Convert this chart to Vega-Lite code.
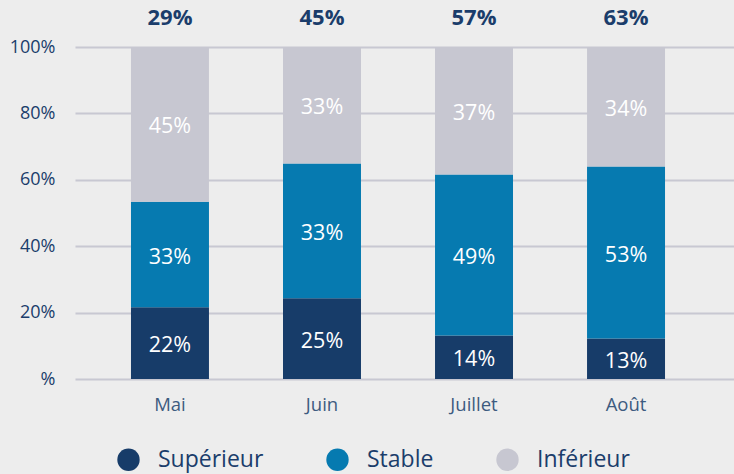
{
  "$schema": "https://vega.github.io/schema/vega-lite/v6.json",
  "width": 659,
  "height": 332,
  "autosize": "none",
  "padding": {"left": 75, "top": 47, "right": 0, "bottom": 95},
  "background": "#ededed",
  "config": {
    "view": {"stroke": null},
    "font": "Open Sans"
  },
  "datasets": {
    "bars": [
      {"mois": "Mai", "categorie": "Supérieur", "ordre": 1, "valeur": 0.216, "label": "22%"},
      {"mois": "Mai", "categorie": "Stable", "ordre": 2, "valeur": 0.318, "label": "33%"},
      {"mois": "Mai", "categorie": "Inférieur", "ordre": 3, "valeur": 0.466, "label": "45%"},
      {"mois": "Juin", "categorie": "Supérieur", "ordre": 1, "valeur": 0.243, "label": "25%"},
      {"mois": "Juin", "categorie": "Stable", "ordre": 2, "valeur": 0.406, "label": "33%"},
      {"mois": "Juin", "categorie": "Inférieur", "ordre": 3, "valeur": 0.351, "label": "33%"},
      {"mois": "Juillet", "categorie": "Supérieur", "ordre": 1, "valeur": 0.131, "label": "14%"},
      {"mois": "Juillet", "categorie": "Stable", "ordre": 2, "valeur": 0.485, "label": "49%"},
      {"mois": "Juillet", "categorie": "Inférieur", "ordre": 3, "valeur": 0.384, "label": "37%"},
      {"mois": "Août", "categorie": "Supérieur", "ordre": 1, "valeur": 0.122, "label": "13%"},
      {"mois": "Août", "categorie": "Stable", "ordre": 2, "valeur": 0.518, "label": "53%"},
      {"mois": "Août", "categorie": "Inférieur", "ordre": 3, "valeur": 0.36, "label": "34%"}
    ],
    "totaux": [
      {"mois": "Mai", "total": "29%"},
      {"mois": "Juin", "total": "45%"},
      {"mois": "Juillet", "total": "57%"},
      {"mois": "Août", "total": "63%"}
    ]
  },
  "encoding": {
    "x": {
      "field": "mois",
      "type": "nominal",
      "sort": ["Mai", "Juin", "Juillet", "Août"],
      "scale": {"paddingInner": 0.487, "paddingOuter": 0.411, "align": 0.448},
      "axis": {
        "title": null,
        "labelAngle": 0,
        "domain": false,
        "ticks": false,
        "labelFont": "Open Sans",
        "labelFontSize": 18.5,
        "labelColor": "#3d5b80",
        "labelPadding": 16
      }
    }
  },
  "layer": [
    {
      "data": {"name": "bars"},
      "mark": {"type": "bar"},
      "encoding": {
        "y": {
          "field": "valeur",
          "type": "quantitative",
          "stack": "zero",
          "scale": {"domain": [0, 1]},
          "axis": {
            "title": null,
            "format": "%",
            "values": [0, 0.2, 0.4, 0.6, 0.8, 1],
            "labelExpr": "datum.value == 0 ? '%' : datum.label",
            "domain": false,
            "ticks": false,
            "grid": true,
            "gridColor": "#c8c8d2",
            "gridWidth": 2,
            "labelFont": "Open Sans",
            "labelFontSize": 18,
            "labelColor": "#1b3d6b",
            "labelPadding": 20
          }
        },
        "color": {
          "field": "categorie",
          "type": "nominal",
          "sort": ["Supérieur", "Stable", "Inférieur"],
          "scale": {
            "domain": ["Supérieur", "Stable", "Inférieur"],
            "range": ["#173c69", "#067ab0", "#c7c7d1"]
          },
          "legend": {
            "title": null,
            "orient": "none",
            "direction": "horizontal",
            "legendX": 42,
            "legendY": 401,
            "symbolType": "circle",
            "symbolSize": 500,
            "symbolStrokeWidth": 0,
            "labelFont": "Open Sans",
            "labelFontSize": 23,
            "labelColor": "#1b3d6b",
            "labelOffset": 18,
            "columnPadding": 62
          }
        },
        "order": {"field": "ordre", "type": "quantitative"}
      }
    },
    {
      "data": {"name": "bars"},
      "mark": {"type": "text", "color": "white", "fontSize": 21.5, "font": "Open Sans", "dy": 3},
      "encoding": {
        "y": {"field": "valeur", "type": "quantitative", "stack": "zero", "bandPosition": 0.5},
        "text": {"field": "label"},
        "order": {"field": "ordre", "type": "quantitative"}
      }
    },
    {
      "data": {"name": "totaux"},
      "mark": {"type": "text", "color": "#1b3d6b", "fontSize": 22, "fontWeight": "bold", "font": "Open Sans", "dy": -29},
      "encoding": {
        "y": {"datum": 1, "type": "quantitative"},
        "text": {"field": "total"}
      }
    }
  ]
}
